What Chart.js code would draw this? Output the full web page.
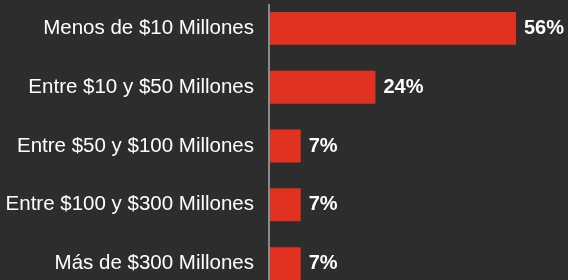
<!DOCTYPE html>
<html>
<head>
  <title>Montos</title>
  <script src="https://cdn.jsdelivr.net/npm/chart.js"></script>
  <style>
    html, body { margin: 0; padding: 0; background: #2d2d2d; overflow: hidden; }
    #wrap { position: absolute; left: 0; top: -1px; width: 568px; height: 294px; }
  </style>
</head>
<body>
  <div id="wrap"><canvas id="chart"></canvas></div>
  <script>
    var categories = ['Menos de $10 Millones', 'Entre $10 y $50 Millones', 'Entre $50 y $100 Millones', 'Entre $100 y $300 Millones', 'Más de $300 Millones'];
    var values = [56, 24, 7, 7, 7];

    var fontFamily = '"Liberation Sans", Arial, Helvetica, sans-serif';

    // value labels after each bar + axis line that starts a little below the top
    var extras = {
      id: 'extras',
      afterDatasetsDraw: function(chart) {
        var ctx = chart.ctx;
        var area = chart.chartArea;
        ctx.save();
        ctx.strokeStyle = '#8a8a8a';
        ctx.lineWidth = 2;
        ctx.beginPath();
        ctx.moveTo(area.left - 1, 5);
        ctx.lineTo(area.left - 1, chart.height);
        ctx.stroke();

        ctx.fillStyle = '#ffffff';
        ctx.font = 'bold 20px ' + fontFamily;
        ctx.textBaseline = 'middle';
        ctx.textAlign = 'left';
        chart.getDatasetMeta(0).data.forEach(function(bar, i) {
          ctx.fillText(values[i] + '%', bar.x + 8, bar.y);
        });
        ctx.restore();
      }
    };

    var ctx = document.getElementById('chart').getContext('2d');
    var chart = new Chart(ctx, {
      type: 'bar',
      data: {
        labels: categories,
        datasets: [{
          data: values,
          backgroundColor: '#e03121',
          borderWidth: 0,
          categoryPercentage: 1,
          barPercentage: 0.56
        }]
      },
      options: {
        indexAxis: 'y',
        responsive: true,
        maintainAspectRatio: false,
        animation: false,
        layout: { padding: { left: 0, right: 52, top: 0, bottom: 0 } },
        plugins: { legend: { display: false }, tooltip: { enabled: false } },
        scales: {
          x: { display: false, min: 0, max: 56 },
          y: {
            afterFit: function(scale) {
              scale.width = 270;
              scale.paddingTop = 0;
              scale.paddingBottom = 0;
            },
            border: { display: false },
            grid: { display: false, drawTicks: false },
            ticks: {
              color: '#ffffff',
              padding: 16,
              font: { family: fontFamily, size: 20.5 }
            }
          }
        }
      },
      plugins: [extras]
    });
  </script>
</body>
</html>
